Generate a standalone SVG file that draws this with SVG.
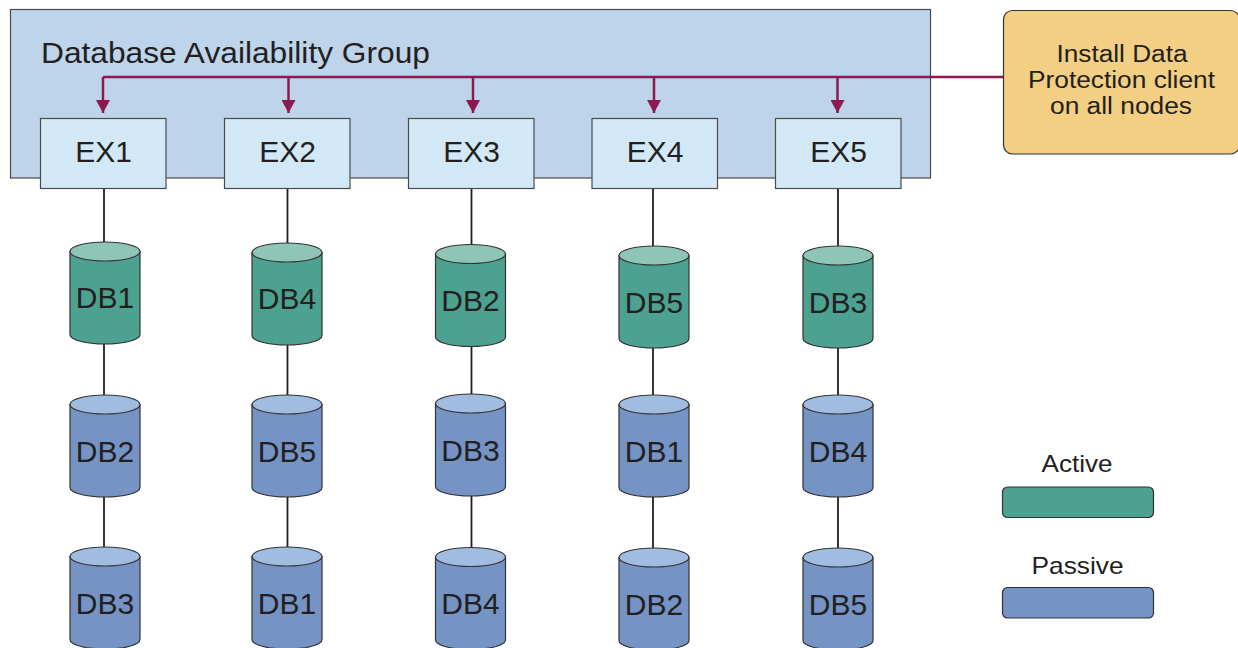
<svg xmlns="http://www.w3.org/2000/svg" width="1238" height="648" viewBox="0 0 1238 648">
<defs>
<style>
text{font-family:"Liberation Sans",Arial,sans-serif;fill:#231F20;}
.dag{fill:#BED4EA;stroke:#4a4a4a;stroke-width:1.2;}
.ex{fill:#D3E8F6;stroke:#4a4a4a;stroke-width:1.2;}
.exl{font-size:30px;text-anchor:middle;}
.dbl{font-size:30px;text-anchor:middle;}
.act .body{fill:#4DA190;stroke:#333;stroke-width:1.2;}
.act .top{fill:#8EC5B6;stroke:#333;stroke-width:1.2;}
.pas .body{fill:#7593C5;stroke:#333;stroke-width:1.2;}
.pas .top{fill:#A0BCE1;stroke:#333;stroke-width:1.2;}
.vline{stroke:#231F20;stroke-width:1.8;fill:none;}
.mag{stroke:#8C1A50;stroke-width:2.5;fill:none;}
.inst{fill:#F2CF83;stroke:#333;stroke-width:1.2;}
.instl{font-size:23px;text-anchor:middle;}
.leg{font-size:24px;text-anchor:middle;}
</style>
<marker id="ah" markerUnits="userSpaceOnUse" markerWidth="14" markerHeight="14" refX="13" refY="7" orient="auto">
<path d="M0,0 L13,7 L0,14 Z" fill="#8C1A50"/>
</marker>
<g id="cylA" class="act">
<path class="body" d="M-35,9.5 V92.5 A35,9.5 0 0 0 35,92.5 V9.5 Z"/>
<ellipse class="top" cx="0" cy="9.5" rx="35" ry="9.5"/>
</g>
<g id="cylP" class="pas">
<path class="body" d="M-35,9.5 V92.5 A35,9.5 0 0 0 35,92.5 V9.5 Z"/>
<ellipse class="top" cx="0" cy="9.5" rx="35" ry="9.5"/>
</g>
</defs>
<rect width="1238" height="648" fill="#ffffff"/>

<g id="dag">
<rect class="dag" x="10.5" y="9.5" width="920" height="168.5"/>
<text x="41" y="63.3" font-size="30" textLength="389" lengthAdjust="spacingAndGlyphs">Database Availability Group</text>
</g>

<g id="connectors">
<line class="vline" x1="104" y1="188" x2="104" y2="600"/>
<line class="vline" x1="287.5" y1="188" x2="287.5" y2="600"/>
<line class="vline" x1="471.5" y1="188" x2="471.5" y2="600"/>
<line class="vline" x1="653" y1="188" x2="653" y2="600"/>
<line class="vline" x1="838" y1="188" x2="838" y2="600"/>
<path class="mag" d="M103,77 H1003"/>
<line class="mag" x1="103" y1="77" x2="103" y2="113" marker-end="url(#ah)"/>
<line class="mag" x1="288.5" y1="77" x2="288.5" y2="113" marker-end="url(#ah)"/>
<line class="mag" x1="473" y1="77" x2="473" y2="113" marker-end="url(#ah)"/>
<line class="mag" x1="654" y1="77" x2="654" y2="113" marker-end="url(#ah)"/>
<line class="mag" x1="837.5" y1="77" x2="837.5" y2="113" marker-end="url(#ah)"/>
</g>

<g id="ex1"><rect class="ex" x="40.5" y="118.5" width="125.5" height="70"/><text class="exl" x="103.5" y="162.3">EX1</text></g>
<g id="ex2"><rect class="ex" x="224.5" y="118.5" width="125.5" height="70"/><text class="exl" x="287.5" y="162.3">EX2</text></g>
<g id="ex3"><rect class="ex" x="408.5" y="118.5" width="125.5" height="70"/><text class="exl" x="471.5" y="162.3">EX3</text></g>
<g id="ex4"><rect class="ex" x="592" y="118.5" width="125.5" height="70"/><text class="exl" x="655" y="162.3">EX4</text></g>
<g id="ex5"><rect class="ex" x="775.5" y="118.5" width="125.5" height="70"/><text class="exl" x="838.5" y="162.3">EX5</text></g>

<g id="install">
<rect class="inst" x="1003.5" y="10.5" width="236" height="143.5" rx="9"/>
<text class="instl" x="1122" y="62.3" textLength="131" lengthAdjust="spacingAndGlyphs">Install Data</text>
<text class="instl" x="1121.5" y="88.3" textLength="187" lengthAdjust="spacingAndGlyphs">Protection client</text>
<text class="instl" x="1121" y="114.3" textLength="142" lengthAdjust="spacingAndGlyphs">on all nodes</text>
</g>

<!-- column 1 -->
<g id="c1db1"><use href="#cylA" x="105" y="242"/><text class="dbl" x="105" y="308.3">DB1</text></g>
<g id="c1db2"><use href="#cylP" x="105" y="395"/><text class="dbl" x="105" y="461.7">DB2</text></g>
<g id="c1db3"><use href="#cylP" x="105" y="547"/><text class="dbl" x="105" y="613.7">DB3</text></g>
<!-- column 2 -->
<g id="c2db4"><use href="#cylA" x="287" y="243"/><text class="dbl" x="287" y="309.3">DB4</text></g>
<g id="c2db5"><use href="#cylP" x="287" y="395"/><text class="dbl" x="287" y="461.7">DB5</text></g>
<g id="c2db1"><use href="#cylP" x="287" y="547"/><text class="dbl" x="287" y="613.7">DB1</text></g>
<!-- column 3 -->
<g id="c3db2"><use href="#cylA" x="470.5" y="244.5"/><text class="dbl" x="470.5" y="311">DB2</text></g>
<g id="c3db3"><use href="#cylP" x="470.5" y="394"/><text class="dbl" x="470.5" y="460.7">DB3</text></g>
<g id="c3db4"><use href="#cylP" x="470.5" y="547.5"/><text class="dbl" x="470.5" y="614.2">DB4</text></g>
<!-- column 4 -->
<g id="c4db5"><use href="#cylA" x="654" y="246"/><text class="dbl" x="654" y="312.7">DB5</text></g>
<g id="c4db1"><use href="#cylP" x="654" y="395"/><text class="dbl" x="654" y="461.7">DB1</text></g>
<g id="c4db2"><use href="#cylP" x="654" y="548"/><text class="dbl" x="654" y="614.7">DB2</text></g>
<!-- column 5 -->
<g id="c5db3"><use href="#cylA" x="838" y="246"/><text class="dbl" x="838" y="312.7">DB3</text></g>
<g id="c5db4"><use href="#cylP" x="838" y="395"/><text class="dbl" x="838" y="461.7">DB4</text></g>
<g id="c5db5"><use href="#cylP" x="838" y="548"/><text class="dbl" x="838" y="614.7">DB5</text></g>

<g id="legend-active">
<text class="leg" x="1077" y="472.3" textLength="71" lengthAdjust="spacingAndGlyphs">Active</text>
<rect x="1002.5" y="487" width="151" height="30.5" rx="5" fill="#4DA190" stroke="#333" stroke-width="1.2"/>
</g>
<g id="legend-passive">
<text class="leg" x="1077.5" y="574" textLength="92" lengthAdjust="spacingAndGlyphs">Passive</text>
<rect x="1002.5" y="587.5" width="151" height="30.5" rx="5" fill="#7593C5" stroke="#333" stroke-width="1.2"/>
</g>
</svg>
